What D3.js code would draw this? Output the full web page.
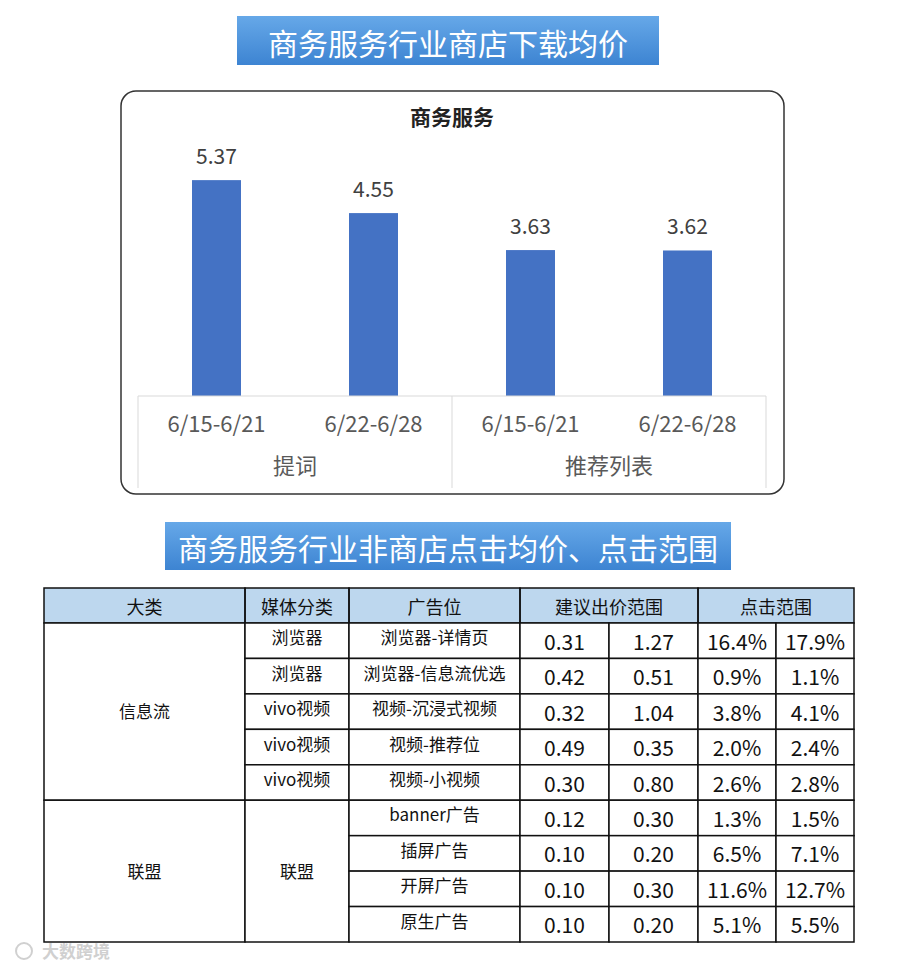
<!DOCTYPE html>
<html>
<head>
<meta charset="utf-8">
<script src="https://cdn.jsdelivr.net/npm/d3@7"></script>
<style>
  body { margin: 0; background: #fff; }
  svg text { font-family: "Noto Sans CJK SC", "Noto Sans", sans-serif; }
</style>
</head>
<body>
<div id="chart"></div>
<script>
// ---- data ----
const barTitle = "商务服务";
const periods = ["6/15-6/21", "6/22-6/28", "6/15-6/21", "6/22-6/28"];
const groups = ["提词", "推荐列表"];
const avgPrice = [5.37, 4.55, 3.63, 3.62];

const headers = ["大类", "媒体分类", "广告位", "建议出价范围", "点击范围"];
const bigCats = [{name: "信息流", span: 5}, {name: "联盟", span: 4}];
const mediaCells = [
  {name: "浏览器", span: 1}, {name: "浏览器", span: 1}, {name: "vivo视频", span: 1},
  {name: "vivo视频", span: 1}, {name: "vivo视频", span: 1}, {name: "联盟", span: 4}
];
const adSlots = ["浏览器-详情页", "浏览器-信息流优选", "视频-沉浸式视频", "视频-推荐位", "视频-小视频",
  "banner广告", "插屏广告", "开屏广告", "原生广告"];
const bidLow = ["0.31", "0.42", "0.32", "0.49", "0.30", "0.12", "0.10", "0.10", "0.10"];
const bidHigh = ["1.27", "0.51", "1.04", "0.35", "0.80", "0.30", "0.20", "0.30", "0.20"];
const clickLow = ["16.4%", "0.9%", "3.8%", "2.0%", "2.6%", "1.3%", "6.5%", "11.6%", "5.1%"];
const clickHigh = ["17.9%", "1.1%", "4.1%", "2.4%", "2.8%", "1.5%", "7.1%", "12.7%", "5.5%"];

const W = 900, H = 968;
const svg = d3.select("#chart").append("svg")
  .attr("width", W).attr("height", H);

const defs = svg.append("defs");
const grad = defs.append("linearGradient").attr("id", "bannerGrad")
  .attr("x1", 0).attr("y1", 0).attr("x2", 0).attr("y2", 1);
grad.append("stop").attr("offset", "0%").attr("stop-color", "#66a8e8");
grad.append("stop").attr("offset", "100%").attr("stop-color", "#3d84d2");

function banner(x, y, w, h, label) {
  svg.append("rect").attr("x", x).attr("y", y).attr("width", w).attr("height", h)
    .attr("fill", "url(#bannerGrad)");
  svg.append("text").attr("x", x + w / 2).attr("y", y + h / 2 + 1)
    .attr("text-anchor", "middle").attr("dominant-baseline", "central")
    .attr("fill", "#fff").attr("font-size", 30).text(label);
}

// ---- bar chart ----
banner(237, 16, 422, 49, "商务服务行业商店下载均价");

svg.append("rect").attr("x", 121).attr("y", 91).attr("width", 663).attr("height", 403)
  .attr("rx", 15).attr("fill", "#fff").attr("stroke", "#333").attr("stroke-width", 1.5);

svg.append("text").attr("x", 452).attr("y", 125).attr("text-anchor", "middle")
  .attr("font-size", 21).attr("font-weight", "bold").attr("fill", "#222").text(barTitle);

const x = d3.scaleBand().domain(d3.range(periods.length)).range([138, 766])
  .paddingInner(0.688).paddingOuter(0.344);
const y = d3.scaleLinear().domain([0, 6]).range([396, 154.8]);

const g = svg.append("g");
g.selectAll("rect.bar").data(avgPrice).join("rect").attr("class", "bar")
  .attr("x", (d, i) => x(i)).attr("width", x.bandwidth())
  .attr("y", d => y(d)).attr("height", d => y(0) - y(d))
  .attr("fill", "#4472c4");

g.selectAll("text.val").data(avgPrice).join("text").attr("class", "val")
  .attr("x", (d, i) => x(i) + x.bandwidth() / 2).attr("y", d => y(d) - 16)
  .attr("text-anchor", "middle").attr("font-size", 21).attr("fill", "#404040")
  .text(d => d.toFixed(2));

// axis with grouped categories
const axisG = svg.append("g").attr("stroke", "#d9d9d9").attr("stroke-width", 1);
axisG.append("line").attr("x1", 138).attr("x2", 766).attr("y1", y(0)).attr("y2", y(0));
const groupEdges = [0, 2, 4].map(i => i === 4 ? 766 : x(i) - x.step() * 0.344);
groupEdges.forEach(gx => {
  axisG.append("line").attr("x1", gx).attr("x2", gx).attr("y1", y(0)).attr("y2", 488);
});

g.selectAll("text.period").data(periods).join("text").attr("class", "period")
  .attr("x", (d, i) => x(i) + x.bandwidth() / 2).attr("y", 432)
  .attr("text-anchor", "middle").attr("font-size", 22).attr("fill", "#595959")
  .text(d => d);

g.selectAll("text.group").data(groups).join("text").attr("class", "group")
  .attr("x", (d, i) => (x(i * 2) + x(i * 2 + 1) + x.bandwidth()) / 2).attr("y", 474)
  .attr("text-anchor", "middle").attr("font-size", 22).attr("fill", "#595959")
  .text(d => d);

// ---- table ----
banner(165, 522, 566, 48, "商务服务行业非商店点击均价、点击范围");

const colEdges = [44, 245, 349, 520, 609, 698, 776, 854];
const headTop = 588, headBottom = 623, tableBottom = 942;
const row = d3.scaleBand().domain(d3.range(adSlots.length)).range([headBottom, tableBottom]);
const rh = row.step();

const t = svg.append("g");
// header background
t.append("rect").attr("x", colEdges[0]).attr("y", headTop)
  .attr("width", colEdges[7] - colEdges[0]).attr("height", headBottom - headTop)
  .attr("fill", "#bdd7ee");

const headerSpans = [[0, 1], [1, 2], [2, 3], [3, 5], [5, 7]];
headers.forEach((h, i) => {
  const [a, b] = headerSpans[i];
  t.append("rect").attr("x", colEdges[a]).attr("y", headTop)
    .attr("width", colEdges[b] - colEdges[a]).attr("height", headBottom - headTop)
    .attr("fill", "none").attr("stroke", "#111").attr("stroke-width", 1.5);
  t.append("text").attr("x", (colEdges[a] + colEdges[b]) / 2).attr("y", (headTop + headBottom) / 2)
    .attr("text-anchor", "middle").attr("dominant-baseline", "central")
    .attr("font-size", 18).attr("fill", "#111").text(h);
});

function cell(col, r0, span, label, size, dy) {
  const x0 = colEdges[col], x1 = colEdges[col + 1];
  const y0 = row(r0), y1 = row(r0) + rh * span;
  t.append("rect").attr("x", x0).attr("y", y0).attr("width", x1 - x0).attr("height", y1 - y0)
    .attr("fill", "#fff").attr("stroke", "#111").attr("stroke-width", 1.5);
  t.append("text").attr("x", (x0 + x1) / 2).attr("y", (y0 + y1) / 2 + dy)
    .attr("text-anchor", "middle").attr("dominant-baseline", "central")
    .attr("font-size", size).attr("fill", "#111").text(label);
}

let r = 0;
bigCats.forEach(c => { cell(0, r, c.span, c.name, 17, -1); r += c.span; });
r = 0;
mediaCells.forEach(c => { cell(1, r, c.span, c.name, 17, c.span > 1 ? -1 : -4); r += c.span; });
adSlots.forEach((d, i) => cell(2, i, 1, d, 17, -4));
bidLow.forEach((d, i) => cell(3, i, 1, d, 21, 0));
bidHigh.forEach((d, i) => cell(4, i, 1, d, 21, 0));
clickLow.forEach((d, i) => cell(5, i, 1, d, 21, 0));
clickHigh.forEach((d, i) => cell(6, i, 1, d, 21, 0));

// watermark
svg.append("text").attr("x", 42).attr("y", 958).attr("font-size", 17)
  .attr("fill", "#d0d0d0").attr("font-weight", "bold").text("大数跨境");
svg.append("circle").attr("cx", 24).attr("cy", 951).attr("r", 8)
  .attr("fill", "none").attr("stroke", "#d0d0d0").attr("stroke-width", 2);
</script>
</body>
</html>
